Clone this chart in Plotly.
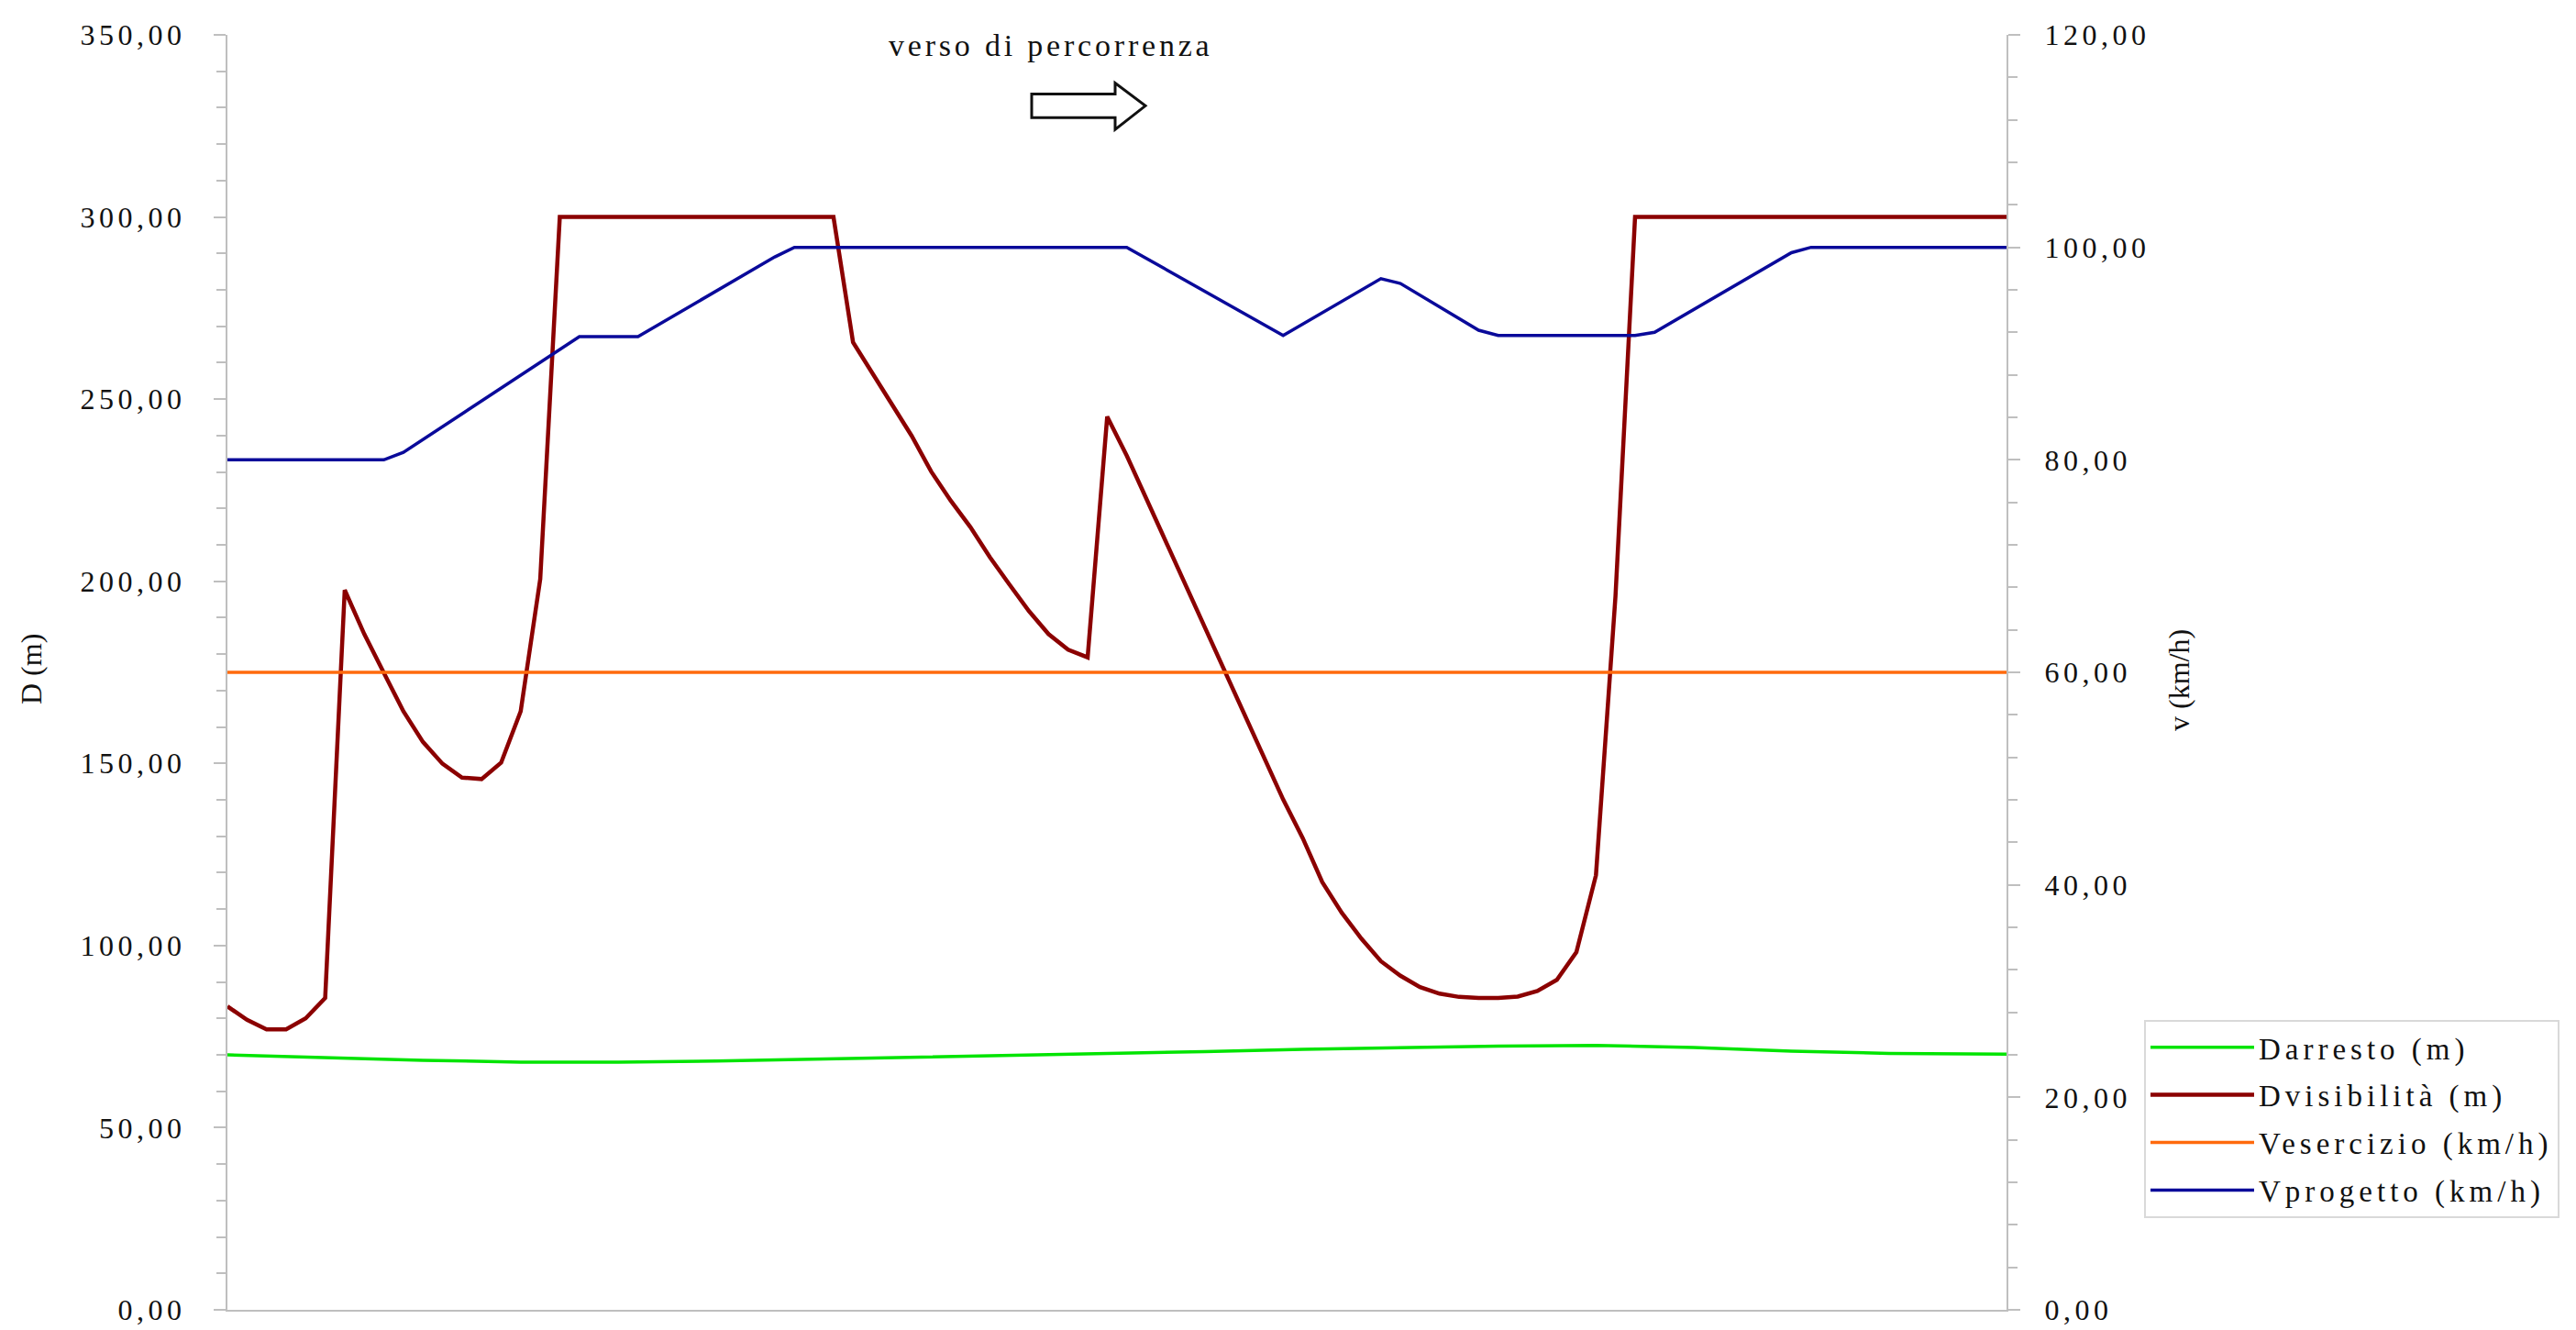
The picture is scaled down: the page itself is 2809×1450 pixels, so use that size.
import plotly.graph_objects as go

# ---------------- data ----------------
# progressive station index (the x axis has no labels in the original)
X_IDX = list(range(92))

D_VISIBILITA = [83.3, 79.6, 77.0, 77.0, 80.0, 85.6, 197.6, 185.5, 174.9, 164.3,
                155.9, 149.9, 146.1, 145.7, 150.2, 164.3, 200.6,
                300, 300, 300, 300, 300, 300, 300, 300, 300, 300, 300, 300, 300, 300, 300,
                265.6, 256.9, 248.2, 239.9, 230.1, 222.1, 214.9, 206.6, 199.1, 191.8,
                185.5, 181.2, 179.1,
                245.2, 234.5, 222.7, 210.9, 199.2, 187.6, 175.9, 163.5, 151.7, 140.1,
                129.5, 117.4, 109.0, 101.9, 95.7, 91.7, 88.6, 86.8, 85.9, 85.6,
                85.6, 86.0, 87.5, 90.6, 98.2, 119.3, 196.0,
                300, 300, 300, 300, 300, 300, 300, 300, 300, 300,
                300, 300, 300, 300, 300, 300, 300, 300, 300, 300]

D_ARRESTO_X = [0, 5, 10, 15, 20, 25, 30, 35, 40, 45, 50, 55, 60, 65, 70, 75, 80, 85, 91]
D_ARRESTO = [70.0, 69.2, 68.5, 68.0, 68.0, 68.3, 68.8, 69.2, 69.8, 70.4,
             70.9, 71.5, 72.0, 72.4, 72.6, 72.0, 71.0, 70.4, 70.2]

V_PROGETTO_X = [0, 8, 9, 18, 21, 28, 29, 46, 54, 59, 60, 64, 65, 72, 73, 80, 81, 91]
V_PROGETTO = [80.0, 80.0, 80.7, 91.6, 91.6, 99.1, 100.0, 100.0, 91.7, 97.05,
              96.6, 92.2, 91.7, 91.7, 92.0, 99.5, 100.0, 100.0]

V_ESERCIZIO_X = [0, 91]
V_ESERCIZIO = [60.0, 60.0]

LEFT_TICKS = [0, 50, 100, 150, 200, 250, 300, 350]
RIGHT_TICKS = [0, 20, 40, 60, 80, 100, 120]

NAMES = ["Darresto (m)", "Dvisibilità (m)", "Vesercizio (km/h)", "Vprogetto (km/h)"]

# ---------------- styling helpers ----------------
W, H = 2809, 1450
PL, PR, PT, PB = 240, 2180, 30, 1432
FONT = "Liberation Serif, Times New Roman, serif"
TXT = "#111111"
AX = "#BFBFBF"


def ls(t, px):
    return f'<span style="letter-spacing:{px}px">{t}</span>'


def fmt(v):
    return f"{v:.2f}".replace(".", ",")


def px_x(p):
    return (p - PL) / (PR - PL)


def px_y(p):
    return (PB - p) / (PB - PT)


fig = go.Figure()

fig.add_trace(go.Scatter(x=D_ARRESTO_X, y=D_ARRESTO, mode="lines",
                         name=ls(NAMES[0], 5), line=dict(color="#00E400", width=3.5),
                         yaxis="y", legendgroup="a"))
fig.add_trace(go.Scatter(x=X_IDX, y=D_VISIBILITA, mode="lines",
                         name=ls(NAMES[1], 5), line=dict(color="#8B0000", width=4.5),
                         yaxis="y", legendgroup="b"))
fig.add_trace(go.Scatter(x=V_ESERCIZIO_X, y=V_ESERCIZIO, mode="lines",
                         name=ls(NAMES[2], 5), line=dict(color="#FF6A0D", width=3.5),
                         yaxis="y2", legendgroup="c"))
fig.add_trace(go.Scatter(x=V_PROGETTO_X, y=V_PROGETTO, mode="lines",
                         name=ls(NAMES[3], 5), line=dict(color="#0A0A9A", width=3.5),
                         yaxis="y2", legendgroup="d"))

# direction arrow (decoration) in pixel -> paper coordinates
arrow_px = [(1117, 95), (1208, 95), (1208, 83), (1241, 108), (1208, 134),
            (1208, 121), (1117, 121)]
path = "M " + " L ".join(f"{px_x(a):.5f},{px_y(b):.5f}" for a, b in arrow_px) + " Z"

fig.update_layout(
    width=W, height=H,
    margin=dict(l=PL, r=W - PR, t=PT, b=H - PB, pad=0),
    paper_bgcolor="white", plot_bgcolor="white",
    font=dict(family=FONT, color=TXT, size=32),
    showlegend=True,
    legend=dict(x=px_x(2330), y=px_y(1113), xanchor="left", yanchor="top",
                bordercolor="#D9D9D9", borderwidth=2, bgcolor="white",
                font=dict(family=FONT, size=33, color=TXT),
                traceorder="grouped", tracegroupgap=6, itemwidth=113),
    xaxis=dict(range=[0, 91], showticklabels=False, ticks="", showgrid=False,
               zeroline=False, showline=True, linecolor=AX, linewidth=2),
    yaxis=dict(range=[0, 350], tickvals=LEFT_TICKS,
               ticktext=[ls(fmt(v), 4.5) for v in LEFT_TICKS],
               ticks="outside", ticklen=13, tickwidth=2, tickcolor=AX,
               ticklabelstandoff=24, ticklabeloverflow="allow",
               minor=dict(dtick=10, ticks="outside", ticklen=10, tickwidth=2, tickcolor=AX),
               showgrid=False, zeroline=False, showline=True, linecolor=AX, linewidth=2,
               tickfont=dict(family=FONT, size=32, color=TXT)),
    yaxis2=dict(range=[0, 120], overlaying="y", side="right", anchor="x",
                tickvals=RIGHT_TICKS,
                ticktext=[ls(fmt(v), 4.5) for v in RIGHT_TICKS],
                ticks="outside", ticklen=13, tickwidth=2, tickcolor=AX,
                ticklabelstandoff=20, ticklabeloverflow="allow",
                minor=dict(dtick=4, ticks="outside", ticklen=10, tickwidth=2, tickcolor=AX),
                showgrid=False, zeroline=False, showline=True, linecolor=AX, linewidth=2,
                tickfont=dict(family=FONT, size=32, color=TXT)),
    shapes=[dict(type="path", xref="paper", yref="paper", path=path,
                 line=dict(color="#111111", width=3), fillcolor="white")],
    annotations=[
        dict(text=ls("verso di percorrenza", 3.8), x=px_x(1138), y=px_y(42),
             xref="paper", yref="paper", showarrow=False, xanchor="center",
             yanchor="middle", font=dict(family=FONT, size=34, color=TXT)),
        dict(text="D (m)", x=px_x(26), y=px_y(728), xref="paper", yref="paper",
             showarrow=False, textangle=-90, xanchor="center", yanchor="middle",
             font=dict(family=FONT, size=32, color=TXT)),
        dict(text="v (km/h)", x=px_x(2368), y=px_y(740), xref="paper", yref="paper",
             showarrow=False, textangle=-90, xanchor="center", yanchor="middle",
             font=dict(family=FONT, size=32, color=TXT)),
    ],
)

fig.write_html("out.html")
